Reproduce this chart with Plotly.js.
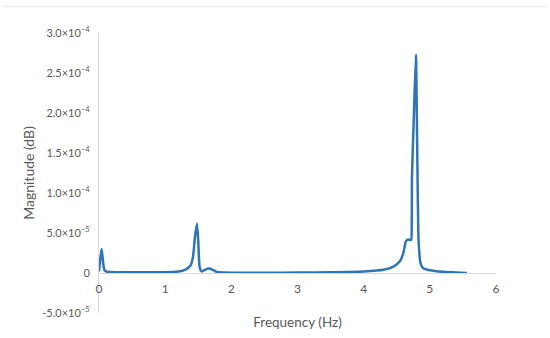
<!DOCTYPE html>
<html>
<head>
<meta charset="utf-8">
<script src="https://cdn.plot.ly/plotly-3.0.1.min.js"></script>
<style>
  html, body { margin: 0; padding: 0; background: #fff; }
  #chart { width: 550px; height: 338px; }
</style>
</head>
<body>
<div id="chart"></div>
<script>
// frequency (Hz) and magnitude
const freq = [
  0.00, 0.02, 0.04, 0.06, 0.08, 0.12, 0.30, 0.60, 1.00, 1.20, 1.30, 1.38,
  1.42, 1.45, 1.48, 1.50, 1.52, 1.55, 1.60, 1.66, 1.72, 1.78, 1.90, 2.50,
  3.00, 3.50, 4.00, 4.30, 4.45, 4.55, 4.60, 4.64, 4.68, 4.71, 4.72, 4.73,
  4.76, 4.79, 4.81, 4.83, 4.86, 4.90, 5.00, 5.20, 5.40, 5.56
];
const magE5 = [
  0.2, 1.8, 3.0, 1.5, 0.4, 0.15, 0.1, 0.08, 0.1, 0.2, 0.4, 0.9,
  2.0, 4.5, 6.2, 4.0, 0.8, 0.2, 0.4, 0.55, 0.4, 0.12, 0.05, 0.02,
  0.05, 0.1, 0.2, 0.4, 0.8, 1.5, 2.5, 4.0, 4.2, 4.1, 4.2, 12.0,
  20.0, 27.3, 15.0, 4.0, 1.2, 0.6, 0.35, 0.15, 0.05, 0.0
];
const magnitude = magE5.map(v => v * 1e-5);

const yTickVals = [-5e-5, 0, 5e-5, 1e-4, 1.5e-4, 2e-4, 2.5e-4, 3e-4];
const yTickText = [
  '-5.0×10<sup>−5</sup>', '0', '5.0×10<sup>−5</sup>', '1.0×10<sup>−4</sup>',
  '1.5×10<sup>−4</sup>', '2.0×10<sup>−4</sup>', '2.5×10<sup>−4</sup>', '3.0×10<sup>−4</sup>'
];
const xTickVals = [0, 1, 2, 3, 4, 5, 6];

const trace = {
  x: freq,
  y: magnitude,
  type: 'scatter',
  mode: 'lines',
  line: { color: '#2e75b6', width: 2.5, shape: 'spline', smoothing: 0.5 },
  hoverinfo: 'skip'
};

const layout = {
  width: 550,
  height: 338,
  showlegend: false,
  paper_bgcolor: '#fff',
  plot_bgcolor: '#fff',
  font: { family: 'Lato, "Open Sans", sans-serif', color: '#595959', size: 11 },
  margin: { l: 99, r: 54, t: 33, b: 25 },
  xaxis: {
    range: [0, 6],
    tickvals: xTickVals,
    tickfont: { size: 12 },
    ticks: '',
    showgrid: false,
    zeroline: false,
    showline: true,
    linecolor: '#d9d9d9',
    linewidth: 1,
    anchor: 'free',
    position: 1 / 7,
    ticklabelstandoff: 5,
    title: { text: 'Frequency (Hz)', font: { size: 13.5, color: '#595959' }, standoff: 22 }
  },
  yaxis: {
    range: [-5e-5, 3e-4],
    tickvals: yTickVals,
    ticktext: yTickText,
    ticks: '',
    showgrid: false,
    zeroline: false,
    showline: true,
    linecolor: '#d9d9d9',
    linewidth: 1,
    ticklabelstandoff: 6,
    title: { text: 'Magnitude (dB)', font: { size: 14, color: '#595959' }, standoff: 4 }
  },
  shapes: [{
    type: 'line', xref: 'paper', yref: 'paper',
    x0: -0.242, x1: 1.128, y0: 1.095, y1: 1.095,
    line: { color: '#ececec', width: 1.5 }
  }]
};

Plotly.newPlot('chart', [trace], layout, { displayModeBar: false, staticPlot: true });
</script>
</body>
</html>
